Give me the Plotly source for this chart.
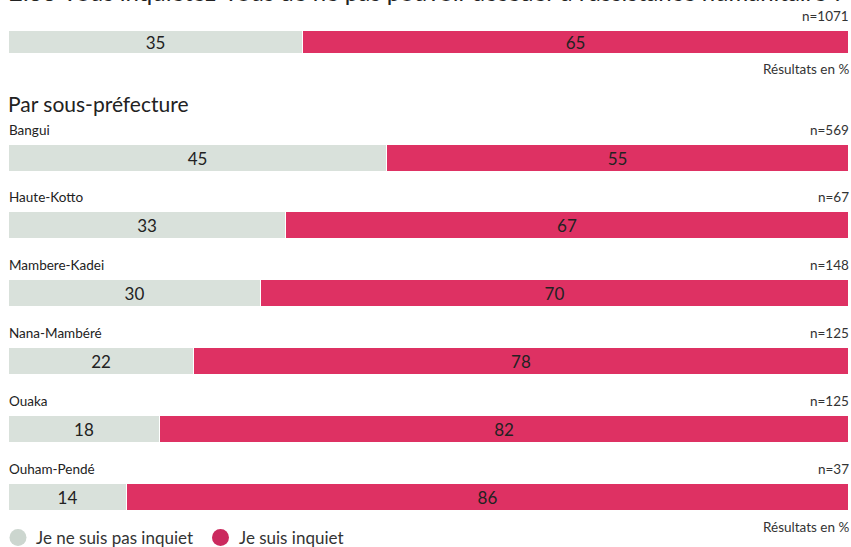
import plotly.graph_objects as go

# Data
groups = ["Total", "Bangui", "Haute-Kotto", "Mambere-Kadei", "Nana-Mambéré", "Ouaka", "Ouham-Pendé"]
not_worried = [35, 45, 33, 30, 22, 18, 14]
worried = [65, 55, 67, 70, 78, 82, 86]
n_values = [1071, 569, 67, 148, 125, 125, 37]
series_names = ["Je ne suis pas inquiet", "Je suis inquiet"]
title_text = "2.33 Vous inquiétez-vous de ne pas pouvoir accéder à l'assistance humanitaire ?"
section_text = "Par sous-préfecture"
unit_text = "Résultats en %"

GREY = "#D9E1DB"
RED = "#DE3163"
LEG_COLORS = ["#CCD6CF", "#CB2A5E"]
FONT = "Lato, 'Noto Sans', sans-serif"
TXT = "#222222"

W, H = 851, 547
ML, MR = 9, 2
PX = (W - ML - MR) / 100.0  # pixels per x unit
# layout positions (y axis is in pixel units)
centers = [42.5] + [158.0 + i * 67.9 for i in range(6)]
heights = [23] + [27] * 6

fig = go.Figure()
for vals, col, name in [(not_worried, GREY, series_names[0]), (worried, RED, series_names[1])]:
    fig.add_trace(go.Bar(
        x=vals, y=centers, width=heights, orientation="h",
        marker=dict(color=col, line=dict(color="white", width=1)),
        text=[str(v) for v in vals], textposition="inside",
        insidetextanchor="middle", textangle=0, constraintext="none",
        textfont=dict(size=17, color=TXT, family=FONT),
        showlegend=False, hoverinfo="skip", name=name,
    ))

ann = []
shapes = []
# title (partly above the top edge, as in the reference)
ann.append(dict(x=0, y=8, xref="x", yref="y", xshift=-2, text=title_text, showarrow=False,
                xanchor="left", yanchor="bottom", font=dict(size=24, color="#222", family=FONT)))
ann.append(dict(x=0, y=103, xref="x", yref="y", xshift=-3, text=section_text, showarrow=False,
                xanchor="left", yanchor="middle", font=dict(size=21, color="#222", family=FONT)))
for i, g in enumerate(groups):
    top = centers[i] - heights[i] / 2
    ly = top - 15
    if i > 0:
        ann.append(dict(x=0, y=ly, xref="x", yref="y", xshift=-2, text=g, showarrow=False,
                        xanchor="left", yanchor="middle", font=dict(size=13.5, color=TXT, family=FONT)))
    ann.append(dict(x=100, y=ly, xref="x", yref="y", xshift=2, text=f"n={n_values[i]}", showarrow=False,
                    xanchor="right", yanchor="middle", font=dict(size=13.5, color="#333", family=FONT)))
for yy in [69, 527]:
    ann.append(dict(x=100, y=yy, xref="x", yref="y", xshift=2, text=unit_text, showarrow=False,
                    xanchor="right", yanchor="middle", font=dict(size=13.5, color="#333", family=FONT)))

# custom legend (circles + labels)
leg_x = [18, 220.5]
leg_y = 537.5
for name, col, px in zip(series_names, LEG_COLORS, leg_x):
    xa = (px - ML) / PX
    shapes.append(dict(type="circle", xref="x", yref="y", xsizemode="pixel", xanchor=xa,
                       x0=-8.5, x1=8.5, y0=leg_y - 8.5, y1=leg_y + 8.5,
                       fillcolor=col, line=dict(width=0)))
    ann.append(dict(x=xa, y=leg_y, xref="x", yref="y", xshift=16, text=name, showarrow=False,
                    xanchor="left", yanchor="middle", font=dict(size=17, color="#333", family=FONT)))

fig.update_layout(
    width=W, height=H, barmode="stack", bargap=0,
    margin=dict(l=ML, r=MR, t=0, b=0, autoexpand=False),
    paper_bgcolor="white", plot_bgcolor="white",
    xaxis=dict(range=[0, 100], visible=False, fixedrange=True),
    yaxis=dict(range=[H, 0], visible=False, fixedrange=True),
    annotations=ann, shapes=shapes,
    showlegend=False,
)

fig.write_html("out.html")
